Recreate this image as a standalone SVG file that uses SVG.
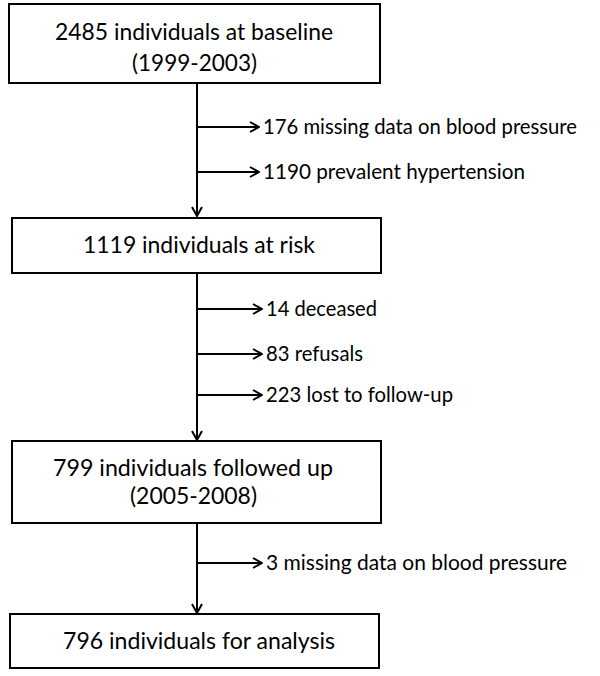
<svg xmlns="http://www.w3.org/2000/svg" width="600" height="676" viewBox="0 0 600 676">
<defs>
<style>
.box{fill:#fff;stroke:#000;stroke-width:2}
.ln{fill:none;stroke:#000;stroke-width:2}
text{font-family:Lato,"Open Sans","Liberation Sans",sans-serif;font-size:20.5px;fill:#000}
.bt{font-size:23px}
</style>
<marker id="ah" viewBox="0 0 12 12" refX="11" refY="6" markerWidth="12" markerHeight="12" markerUnits="userSpaceOnUse" orient="auto">
<path d="M2,1 L11,6 L2,11" fill="none" stroke="#000" stroke-width="2"/>
</marker>
</defs>
<rect width="600" height="676" fill="#fff"/>
<g id="connectors">
<line class="ln" x1="197" y1="83" x2="197" y2="216" marker-end="url(#ah)"/>
<line class="ln" x1="197" y1="127" x2="259" y2="127" marker-end="url(#ah)"/>
<line class="ln" x1="197" y1="172" x2="259" y2="172" marker-end="url(#ah)"/>
<line class="ln" x1="197" y1="273" x2="197" y2="440" marker-end="url(#ah)"/>
<line class="ln" x1="197" y1="309" x2="262" y2="309" marker-end="url(#ah)"/>
<line class="ln" x1="197" y1="354" x2="262" y2="354" marker-end="url(#ah)"/>
<line class="ln" x1="197" y1="395" x2="262" y2="395" marker-end="url(#ah)"/>
<line class="ln" x1="197" y1="523" x2="197" y2="613" marker-end="url(#ah)"/>
<line class="ln" x1="197" y1="563" x2="262" y2="563" marker-end="url(#ah)"/>
</g>
<g id="n1">
<rect class="box" x="9" y="4" width="371" height="79"/>
<text class="bt" x="55" y="40" textLength="278" lengthAdjust="spacingAndGlyphs">2485 individuals at baseline</text>
<text class="bt" x="132" y="71" textLength="125" lengthAdjust="spacingAndGlyphs">(1999-2003)</text>
</g>
<g id="e1"><text x="263" y="134" textLength="314" lengthAdjust="spacingAndGlyphs">176 missing data on blood pressure</text></g>
<g id="e2"><text x="263" y="179" textLength="262" lengthAdjust="spacingAndGlyphs">1190 prevalent hypertension</text></g>
<g id="n2">
<rect class="box" x="12" y="218" width="369" height="55"/>
<text class="bt" x="83" y="253" textLength="232" lengthAdjust="spacingAndGlyphs">1119 individuals at risk</text>
</g>
<g id="e3"><text x="266" y="316" textLength="111" lengthAdjust="spacingAndGlyphs">14 deceased</text></g>
<g id="e4"><text x="266" y="361" textLength="97" lengthAdjust="spacingAndGlyphs">83 refusals</text></g>
<g id="e5"><text x="266" y="402" textLength="187" lengthAdjust="spacingAndGlyphs">223 lost to follow-up</text></g>
<g id="n3">
<rect class="box" x="12" y="441" width="369" height="82"/>
<text class="bt" x="53" y="476" textLength="280" lengthAdjust="spacingAndGlyphs">799 individuals followed up</text>
<text class="bt" x="130" y="504" textLength="127" lengthAdjust="spacingAndGlyphs">(2005-2008)</text>
</g>
<g id="e6"><text x="266" y="570" textLength="301" lengthAdjust="spacingAndGlyphs">3 missing data on blood pressure</text></g>
<g id="n4">
<rect class="box" x="10" y="614" width="369" height="54"/>
<text class="bt" x="63" y="649" textLength="272" lengthAdjust="spacingAndGlyphs">796 individuals for analysis</text>
</g>
</svg>
